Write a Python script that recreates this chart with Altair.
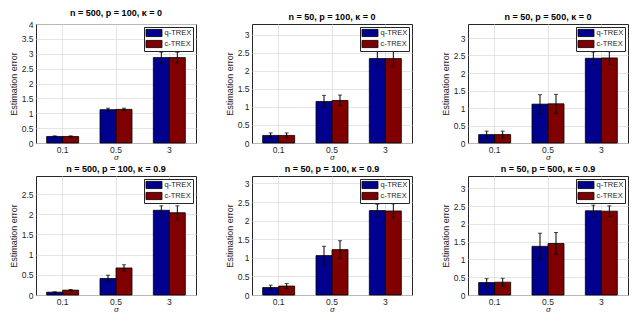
import altair as alt
import pandas as pd

sigmas = ["0.1", "0.5", "3"]
methods = ["q-TREX", "c-TREX"]
colors = ["#00008f", "#800000"]
titles = [
    "n = 500, p = 100, κ = 0",
    "n = 50, p = 100, κ = 0",
    "n = 50, p = 500, κ = 0",
    "n = 500, p = 100, κ = 0.9",
    "n = 50, p = 100, κ = 0.9",
    "n = 50, p = 500, κ = 0.9",
]
ymax = [4, 3.3, 3.4, 2.95, 3.2, 3.35]

q_mean = [[0.22, 1.12, 2.87], [0.21, 1.15, 2.34], [0.24, 1.11, 2.42],
          [0.07, 0.41, 2.10], [0.20, 1.06, 2.27], [0.35, 1.37, 2.37]]
q_err = [[0.02, 0.05, 0.18], [0.07, 0.17, 0.20], [0.10, 0.27, 0.18],
         [0.01, 0.08, 0.11], [0.065, 0.25, 0.17], [0.11, 0.37, 0.16]]
c_mean = [[0.22, 1.13, 2.87], [0.21, 1.18, 2.34], [0.24, 1.12, 2.43],
          [0.12, 0.67, 2.04], [0.24, 1.22, 2.26], [0.36, 1.45, 2.36]]
c_err = [[0.02, 0.04, 0.18], [0.07, 0.15, 0.23], [0.10, 0.27, 0.18],
         [0.015, 0.08, 0.17], [0.07, 0.24, 0.19], [0.11, 0.31, 0.15]]

W = 160
H = 119
FONT = "Liberation Sans"
TXT = "#262626"


def panel(i):
    rows = []
    for j, s in enumerate(sigmas):
        for m, mean, err in (("q-TREX", q_mean, q_err), ("c-TREX", c_mean, c_err)):
            v, e = mean[i][j], err[i][j]
            rows.append({"sigma": s, "method": m, "value": v, "lo": v - e, "hi": v + e})
    df = pd.DataFrame(rows)
    ticks = [k * 0.5 for k in range(int(ymax[i] / 0.5) + 1)]
    base = alt.Chart(df)
    x = alt.X("sigma:N", sort=sigmas, title="σ",
              scale=alt.Scale(paddingInner=0.4, paddingOuter=0.2),
              axis=alt.Axis(labelAngle=0, bandPosition=0.5, ticks=False, domain=False,
                            grid=True, labelPadding=2, titlePadding=0,
                            titleFontStyle="italic", titleFontWeight="normal",
                            titleFontSize=8))
    xo = alt.XOffset("method:N", sort=methods,
                     scale=alt.Scale(paddingInner=0, paddingOuter=0))
    yscale = alt.Scale(domain=[0, ymax[i]], nice=False, zero=True)
    yaxis = alt.Axis(values=ticks, format="~g", ticks=False, domain=False, grid=True,
                     labelPadding=3, titlePadding=3, titleFontWeight="normal",
                     titleFontSize=9)
    bars = base.mark_bar(stroke="black", strokeWidth=0.8, opacity=1).encode(
        x=x, xOffset=xo,
        y=alt.Y("value:Q", scale=yscale, axis=yaxis, title="Estimation error"),
        color=alt.Color("method:N", sort=methods,
                        scale=alt.Scale(domain=methods, range=colors),
                        legend=alt.Legend(
                            title=None, orient="top-right", offset=3,
                            fillColor="white", strokeColor=TXT, padding=1.5,
                            symbolType="M-2,-0.9H2V0.9H-2Z", symbolSize=64,
                            symbolStrokeColor="black", symbolStrokeWidth=0.8,
                            symbolOpacity=1, labelFontSize=7.5, labelColor=TXT,
                            labelFont=FONT, rowPadding=0, labelOffset=6,
                            symbolOffset=4)),
    )
    rules = base.mark_rule(color="black", strokeWidth=1).encode(
        x=x, xOffset=xo,
        y=alt.Y("lo:Q", scale=yscale, axis=yaxis, title="Estimation error"),
        y2="hi:Q",
    )
    cap_lo = base.mark_tick(color="black", size=4, thickness=1).encode(
        x=x, xOffset=xo,
        y=alt.Y("lo:Q", scale=yscale, axis=yaxis, title="Estimation error"),
    )
    cap_hi = base.mark_tick(color="black", size=4, thickness=1).encode(
        x=x, xOffset=xo,
        y=alt.Y("hi:Q", scale=yscale, axis=yaxis, title="Estimation error"),
    )
    return alt.layer(bars, rules, cap_lo, cap_hi).properties(
        width=W, height=H,
        title=alt.TitleParams(titles[i], fontSize=9, fontWeight="bold", font=FONT,
                              color="black", offset=2, frame="group", anchor="middle"),
    )


row1 = alt.hconcat(panel(0), panel(1), panel(2), spacing=27).resolve_legend(color="independent")
row2 = alt.hconcat(panel(3), panel(4), panel(5), spacing=27).resolve_legend(color="independent")

chart = alt.vconcat(row1, row2, spacing=2).resolve_legend(color="independent").properties(
    padding=0
).configure_view(
    stroke=TXT, strokeWidth=1
).configure_axis(
    labelFont=FONT, titleFont=FONT, labelFontSize=8.5, labelColor=TXT, titleColor=TXT,
    gridColor="#dedede", gridWidth=0.8
)

chart.save("out.html", embed_options={"renderer": "svg", "actions": False})
